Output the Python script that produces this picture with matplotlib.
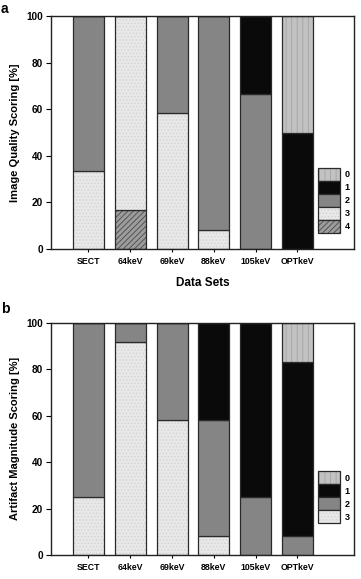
import matplotlib
matplotlib.use("Agg")
import matplotlib.pyplot as plt
from matplotlib.patches import Patch
from matplotlib.legend_handler import HandlerTuple
import numpy as np

plt.rcParams['font.family'] = ['Liberation Sans', 'DejaVu Sans']
plt.rcParams['font.weight'] = 'bold'
plt.rcParams['hatch.linewidth'] = 0.6

categories = ["SECT", "64keV", "69keV", "88keV", "105keV", "OPTkeV"]

# image quality scoring (%), score -> values per data set
quality_scores = ["4", "3", "2", "1", "0"]
quality = {
    "4": [0, 16.7, 0, 0, 0, 0],
    "3": [33.3, 83.3, 58.3, 8.3, 0, 0],
    "2": [66.7, 0, 41.7, 91.7, 66.7, 0],
    "1": [0, 0, 0, 0, 33.3, 50.0],
    "0": [0, 0, 0, 0, 0, 50.0],
}

# artifact magnitude scoring (%)
artifact_scores = ["3", "2", "1", "0"]
artifact = {
    "3": [25.0, 91.7, 58.3, 8.3, 0, 0],
    "2": [75.0, 8.3, 41.7, 50.0, 25.0, 8.3],
    "1": [0, 0, 0, 41.7, 75.0, 75.0],
    "0": [0, 0, 0, 0, 0, 16.7],
}

# fill colour, hatch, hatch colour
styles = {
    "0": ("#c2c2c2", "|||", "#a3a3a3"),
    "1": ("#0a0a0a", None, None),
    "2": ("#858585", None, None),
    "3": ("#e8e8e8", ".....", "#d2d2d2"),
    "4": ("#9c9c9c", "//////", "#4a4a4a"),
}
edge = "#2a2a2a"


def draw_panel(ax, scores, data, ylabel, leg_anchor):
    x = np.arange(len(categories))
    bottom = np.zeros(len(categories))
    handles = []
    for s in scores:
        vals = np.array(data[s])
        fc, hatch, hc = styles[s]
        if hatch:
            ax.bar(x, vals, 0.74, bottom=bottom, color=fc, hatch=hatch,
                   edgecolor=hc, linewidth=0)
        else:
            ax.bar(x, vals, 0.74, bottom=bottom, color=fc, linewidth=0)
        ax.bar(x, vals, 0.74, bottom=bottom, fill=False, edgecolor=edge,
               linewidth=0.9)
        bottom += vals
        handles.append((Patch(facecolor=fc, hatch=hatch, edgecolor=hc if hc else fc, linewidth=0),
                        Patch(fill=False, edgecolor=edge, linewidth=0.9)))
    ax.set_xlim(-0.9, 6.35)
    ax.set_ylim(0, 100)
    ax.set_yticks([0, 20, 40, 60, 80, 100])
    ax.set_xticks(x)
    ax.set_xticklabels(categories, fontsize=6.3)
    ax.tick_params(axis='y', labelsize=7.2, length=3.5, width=0.8, pad=2)
    ax.tick_params(axis='x', length=2.5, width=0.8)
    for sp in ax.spines.values():
        sp.set_linewidth(1.0)
        sp.set_color("#222222")
    ax.set_ylabel(ylabel, fontsize=8, fontweight='bold', labelpad=5)
    ax.set_xlabel("Data Sets", fontsize=8.5, fontweight='bold', labelpad=8)

    hs = handles[::-1]
    labels = scores[::-1]
    ax.legend(hs, labels, handler_map={tuple: HandlerTuple(ndivide=1, pad=0)},
              loc='lower left', bbox_to_anchor=leg_anchor, frameon=False,
              fontsize=6.5, handlelength=2.45, handleheight=1.85,
              labelspacing=0, borderpad=0, borderaxespad=0, handletextpad=0.5)


fig = plt.figure(figsize=(3.61, 5.79), dpi=100)
ax1 = fig.add_axes([0.141, 0.570, 0.839, 0.402])
ax2 = fig.add_axes([0.141, 0.0415, 0.839, 0.401])

draw_panel(ax1, quality_scores, quality, "Image Quality Scoring [%]", (0.881, 0.069))
draw_panel(ax2, artifact_scores, artifact, "Artifact Magnitude Scoring [%]", (0.881, 0.136))

fig.text(0.003, 0.997, "a", fontsize=10, fontweight='bold', va='top', ha='left')
fig.text(0.003, 0.478, "b", fontsize=10, fontweight='bold', va='top', ha='left')

fig.savefig("out.png", dpi=100)
